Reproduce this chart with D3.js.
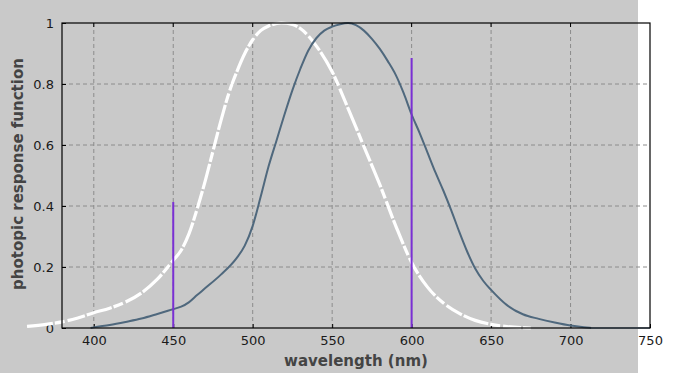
<!DOCTYPE html>
<html lang="en">
<head>
  <meta charset="UTF-8" />
  <title>Photopic response</title>
  <script src="https://d3js.org/d3.v7.min.js"></script>
  <style>
    body { margin: 0; background: #fff; }
    svg { display: block; }
    text { font-family: "DejaVu Sans", Verdana, sans-serif; }
  </style>
</head>
<body>
  <svg id="chart" width="700" height="375"></svg>
  <script>
    // photopic curve (blue-grey)
    const photopicNm = [398, 400, 410, 420, 430, 440, 450, 455, 460, 465, 470, 480, 490, 495, 500, 505, 510, 515, 520, 525, 530, 535, 540, 545, 550, 555, 560, 565, 570, 575, 580, 585, 590, 595, 600, 605, 610, 615, 620, 625, 630, 635, 640, 645, 650, 660, 670, 680, 690, 700, 710, 713];
    const photopicVal = [0, 0.002, 0.01, 0.02, 0.031, 0.046, 0.062, 0.07, 0.085, 0.108, 0.13, 0.175, 0.23, 0.27, 0.335, 0.43, 0.53, 0.615, 0.70, 0.78, 0.85, 0.91, 0.95, 0.975, 0.988, 0.996, 1.0, 0.993, 0.975, 0.948, 0.915, 0.875, 0.83, 0.77, 0.70, 0.64, 0.575, 0.51, 0.45, 0.385, 0.315, 0.25, 0.195, 0.155, 0.125, 0.075, 0.045, 0.03, 0.018, 0.008, 0.002, 0];

    // the white curve
    const whiteNm = [358, 370, 380, 390, 400, 410, 420, 430, 440, 450, 455, 460, 465, 470, 475, 480, 485, 490, 495, 500, 505, 510, 518, 525, 530, 540, 550, 560, 570, 580, 590, 600, 610, 620, 630, 640, 650, 660, 675];
    const whiteVal = [0.005, 0.012, 0.02, 0.033, 0.05, 0.065, 0.085, 0.115, 0.16, 0.222, 0.255, 0.31, 0.39, 0.48, 0.58, 0.68, 0.77, 0.84, 0.90, 0.945, 0.975, 0.99, 1.0, 0.995, 0.982, 0.925, 0.84, 0.72, 0.595, 0.47, 0.335, 0.215, 0.134, 0.082, 0.048, 0.025, 0.012, 0.005, 0];

    // purple markers
    const markerNm = [450, 600];
    const markerVal = [0.413, 0.885];

    const xTicks = [400, 450, 500, 550, 600, 650, 700, 750];
    const yTicks = [0, 0.2, 0.4, 0.6, 0.8, 1];

    const svg = d3.select("#chart");
    const plot = { left: 62, right: 650, top: 23, bottom: 328 };

    const x = d3.scaleLinear().domain([380, 750]).range([plot.left, plot.right]);
    const y = d3.scaleLinear().domain([0, 1]).range([plot.bottom, plot.top]);

    svg.append("rect")
      .attr("x", 0).attr("y", 0)
      .attr("width", 638).attr("height", 373)
      .attr("fill", "#c9c9c9");

    // grid
    svg.append("g")
      .selectAll("line")
      .data(xTicks.filter(d => d < 750))
      .join("line")
      .attr("x1", d => x(d)).attr("x2", d => x(d))
      .attr("y1", plot.top).attr("y2", plot.bottom)
      .attr("stroke", "#8c8c8c")
      .attr("stroke-dasharray", "4,3");

    svg.append("g")
      .selectAll("line")
      .data(yTicks.filter(d => d > 0 && d < 1))
      .join("line")
      .attr("x1", plot.left).attr("x2", plot.right)
      .attr("y1", d => y(d)).attr("y2", d => y(d))
      .attr("stroke", "#8c8c8c")
      .attr("stroke-dasharray", "4,3");

    // axes
    const xAxis = d3.axisBottom(x).tickValues(xTicks).tickSizeInner(-4).tickSizeOuter(0).tickPadding(8);
    const yAxis = d3.axisLeft(y).tickValues(yTicks).tickSizeInner(-4).tickSizeOuter(0).tickPadding(8)
      .tickFormat(d => d === 0 ? "0" : d === 1 ? "1" : d3.format(".1f")(d));

    const gx = svg.append("g").attr("transform", `translate(0,${plot.bottom})`).call(xAxis);
    const gy = svg.append("g").attr("transform", `translate(${plot.left},0)`).call(yAxis);
    [gx, gy].forEach(g => {
      g.select(".domain").remove();
      g.selectAll("line").attr("stroke", "#000");
      g.selectAll("text").attr("font-size", 13).attr("fill", "#1a1a1a")
        .attr("font-family", "DejaVu Sans, Verdana, sans-serif");
    });

    // top ticks
    svg.append("g")
      .selectAll("line")
      .data(xTicks.filter(d => d < 750))
      .join("line")
      .attr("x1", d => x(d)).attr("x2", d => x(d))
      .attr("y1", plot.top).attr("y2", plot.top + 4)
      .attr("stroke", "#000");

    // curves
    const line = d3.line().x(d => x(d[0])).y(d => y(d[1])).curve(d3.curveMonotoneX);

    svg.append("path")
      .datum(d3.zip(whiteNm, whiteVal))
      .attr("d", line)
      .attr("fill", "none")
      .attr("stroke", "#fff")
      .attr("stroke-width", 3.2)
      .attr("stroke-dasharray", "26,2,10,3,18,2");

    svg.append("path")
      .datum([[713, 0], [750, 0]])
      .attr("d", line)
      .attr("fill", "none")
      .attr("stroke", "#8ea3b3")
      .attr("stroke-width", 2);

    svg.append("path")
      .datum(d3.zip(photopicNm, photopicVal))
      .attr("d", line)
      .attr("fill", "none")
      .attr("stroke", "#4f687d")
      .attr("stroke-width", 2);

    svg.append("g")
      .selectAll("line")
      .data(d3.zip(markerNm, markerVal))
      .join("line")
      .attr("x1", d => x(d[0])).attr("x2", d => x(d[0]))
      .attr("y1", y(0)).attr("y2", d => y(d[1]))
      .attr("stroke", "#7a2fd4")
      .attr("stroke-width", 2);

    // frame
    svg.append("rect")
      .attr("x", plot.left).attr("y", plot.top)
      .attr("width", plot.right - plot.left).attr("height", plot.bottom - plot.top)
      .attr("fill", "none")
      .attr("stroke", "#000")
      .attr("stroke-width", 1.2);

    // titles
    svg.append("text")
      .attr("x", 356).attr("y", 366)
      .attr("text-anchor", "middle")
      .attr("font-size", 15).attr("font-weight", "bold")
      .attr("fill", "#444")
      .text("wavelength (nm)");

    svg.append("text")
      .attr("transform", "translate(23,174) rotate(-90)")
      .attr("text-anchor", "middle")
      .attr("font-size", 15).attr("font-weight", "bold")
      .attr("fill", "#444")
      .text("photopic response function");
  </script>
</body>
</html>
